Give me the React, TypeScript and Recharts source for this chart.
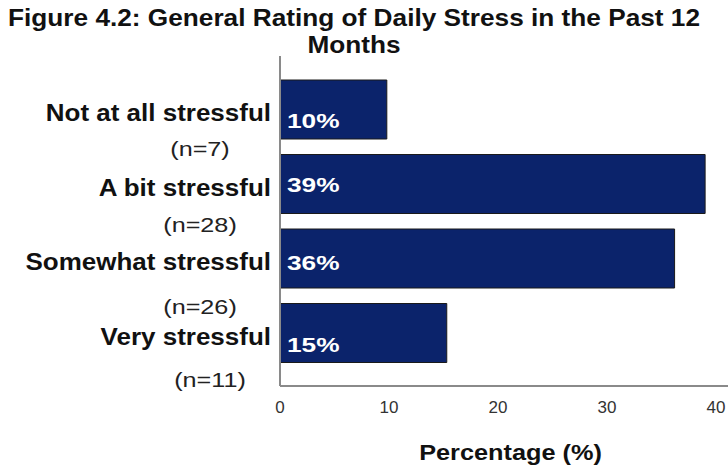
import React from "react";
import { BarChart, Bar, XAxis, YAxis, LabelList } from "recharts";

const categories = ["Not at all stressful", "A bit stressful", "Somewhat stressful", "Very stressful"];
const counts = ["(n=7)", "(n=28)", "(n=26)", "(n=11)"];
const percentages = [9.8, 39.0, 36.2, 15.3];
const valueLabels = ["10%", "39%", "36%", "15%"];
const xTicks = [0, 10, 20, 30, 40];
const titleLines = ["Figure 4.2: General Rating of Daily Stress in the Past 12", "Months"];
const xAxisTitle = "Percentage (%)";

const data = categories.map((c, i) => ({ category: c, n: counts[i], value: percentages[i], label: valueLabels[i] }));

// style-only offsets (relative to library-computed positions)
const nLabelDy = [40, 41, 49, 47];
const nLabelDx = [0, 0, 0, 10];
const barLabelDy = [11, 0, 4, 11];

const FONT = "'Liberation Sans', Arial, sans-serif";

const YTick = (props: any) => {
  const { x, y, payload } = props;
  const i = categories.indexOf(payload.value);
  return (
    <g>
      <g transform={`translate(${x - 9},${y + 12}) scale(1.13,1)`}>
        <text x={0} y={0} textAnchor="end" fontFamily={FONT} fontWeight="bold" fontSize={23} fill="#111">
          {payload.value}
        </text>
      </g>
      <g transform={`translate(${x - 80 + nLabelDx[i]},${y + nLabelDy[i] + 7}) scale(1.2,1)`}>
        <text x={0} y={0} textAnchor="middle" fontFamily={FONT} fontSize={21} fill="#222">
          {counts[i]}
        </text>
      </g>
    </g>
  );
};

const XTick = (props: any) => {
  const { x, y, payload } = props;
  return (
    <text x={x} y={y + 26.5} textAnchor="middle" fontFamily={FONT} fontSize={17} fill="#333">
      {payload.value}
    </text>
  );
};

const BarLabel = (props: any) => {
  const { x, y, height, index } = props;
  return (
    <g transform={`translate(${x + 7},${y + height / 2 + barLabelDy[index] + 7.5}) scale(1.25,1)`}>
      <text x={0} y={0} fontFamily={FONT} fontWeight="bold" fontSize={21} fill="#ffffff">
        {valueLabels[index]}
      </text>
    </g>
  );
};

export default function App() {
  return (
    <div style={{ position: "relative", width: 728, height: 469, background: "#fff" }}>
      <style>{"body{margin:0}"}</style>
      <BarChart
        width={728}
        height={469}
        data={data}
        layout="vertical"
        margin={{ top: 56, right: 0, left: 0, bottom: 0 }}
      >
        <XAxis
          type="number"
          domain={[0, 41.1]}
          ticks={xTicks}
          tick={<XTick />}
          tickLine={false}
          tickSize={0}
          tickMargin={0}
          height={83}
          axisLine={{ stroke: "#8a8a8a", strokeWidth: 2 }}
        />
        <YAxis
          type="category"
          dataKey="category"
          width={280}
          tick={<YTick />}
          tickLine={false}
          tickSize={0}
          tickMargin={0}
          padding={{ top: 16, bottom: 16 }}
          axisLine={{ stroke: "#8a8a8a", strokeWidth: 2 }}
          interval={0}
        />
        <Bar dataKey="value" fill="#0b236b" stroke="#1a1a1a" strokeWidth={1} barSize={59} isAnimationActive={false}>
          <LabelList dataKey="value" content={<BarLabel />} />
        </Bar>
      </BarChart>
      <svg width={728} height={469} style={{ position: "absolute", left: 0, top: 0, pointerEvents: "none" }}>
        <g transform="translate(354,26) scale(1.14,1)">
          <text x={0} y={0} textAnchor="middle" fontFamily={FONT} fontWeight="bold" fontSize={23} fill="#111">
            {titleLines[0]}
          </text>
        </g>
        <g transform="translate(354,53) scale(1.14,1)">
          <text x={0} y={0} textAnchor="middle" fontFamily={FONT} fontWeight="bold" fontSize={23} fill="#111">
            {titleLines[1]}
          </text>
        </g>
        <g transform="translate(510.5,460) scale(1.15,1)">
          <text x={0} y={0} textAnchor="middle" fontFamily={FONT} fontWeight="bold" fontSize={22} fill="#111">
            {xAxisTitle}
          </text>
        </g>
      </svg>
    </div>
  );
}
